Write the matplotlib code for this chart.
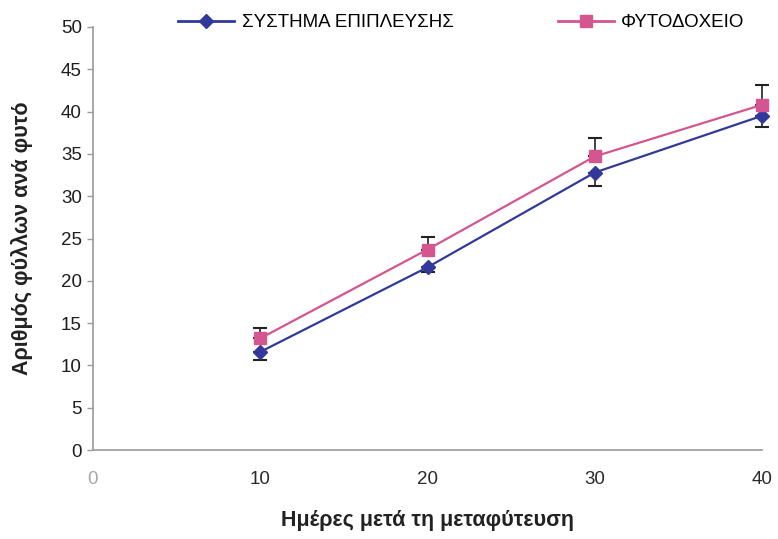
import matplotlib
matplotlib.use("Agg")
import matplotlib.pyplot as plt
from matplotlib.lines import Line2D

days = [10, 20, 30, 40]
floating = [11.6, 21.6, 32.8, 39.5]
floating_err = [1.0, 0.5, 1.6, 1.3]
pot = [13.2, 23.7, 34.7, 40.8]
pot_err = [1.2, 1.5, 2.2, 2.3]
labels = ["ΣΥΣΤΗΜΑ ΕΠΙΠΛΕΥΣΗΣ", "ΦΥΤΟΔΟΧΕΙΟ"]

plt.rcParams['font.family'] = ['Liberation Sans', 'DejaVu Sans']

fig = plt.figure(figsize=(7.78, 5.39), dpi=100)
ax = fig.add_axes([0.1195, 0.165, 0.86, 0.785])

blue = '#33399a'
pink = '#d45590'

for y, err, col, mk, ms in [(floating, [floating_err, [0]*4], blue, 'D', 7),
                            (pot, [[0]*4, pot_err], pink, 's', 8)]:
    c = ax.errorbar(days, y, yerr=err, color=col, marker=mk, ms=ms,
                    lw=1.6, ecolor='#222222', elinewidth=1.2, capsize=5, capthick=1.5, zorder=3)
    arts = [c.lines[0]] + list(c.lines[1]) + list(c.lines[2])
    for art in arts:
        art.set_clip_on(False)

ax.set_xlim(0, 40)
ax.set_ylim(0, 50)
ax.set_xticks([0, 10, 20, 30, 40])
ax.set_yticks(range(0, 51, 5))
ax.spines['top'].set_visible(False)
ax.spines['right'].set_visible(False)
for s in ['left', 'bottom']:
    ax.spines[s].set_color('#9a9a9a')
    ax.spines[s].set_linewidth(1.2)
ax.tick_params(axis='y', colors='#9a9a9a', labelcolor='#1e1e1e', labelsize=13.5, length=4, width=1, pad=4)
ax.tick_params(axis='x', colors='#9a9a9a', labelcolor='#2a2a2a', labelsize=13.5, length=0, pad=15)
ax.get_xticklabels()[0].set_color('#a8a8a8')

ax.set_xlabel("Ημέρες μετά τη μεταφύτευση", fontsize=15.5, fontweight='bold', color='#222222', labelpad=16)
ax.set_ylabel("Αριθμός φύλλων ανά φυτό", fontsize=15.5, fontweight='bold', color='#222222', labelpad=20)

h1 = Line2D([], [], color=blue, marker='D', ms=7, lw=2)
h2 = Line2D([], [], color=pink, marker='s', ms=8, lw=2)
for h, lab, x in [(h1, labels[0], 0.207), (h2, labels[1], 0.695)]:
    fig.legend([h], [lab], loc='upper left', bbox_to_anchor=(x, 1.005), frameon=False,
               fontsize=13.5, handlelength=3.0, handletextpad=0.4)

fig.savefig("out.png", dpi=100, facecolor='white')
